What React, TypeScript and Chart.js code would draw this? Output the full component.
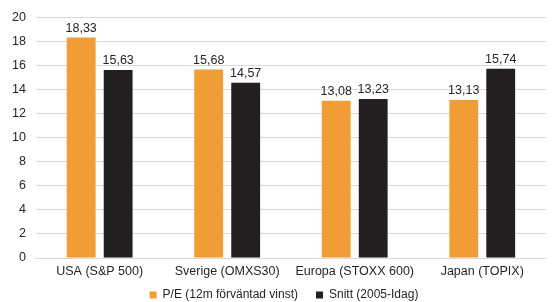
import React, { useEffect, useRef } from "react";
import { Chart, registerables } from "chart.js";

Chart.register(...registerables);

const categories = ["USA (S&P 500)", "Sverige (OMXS30)", "Europa (STOXX 600)", "Japan (TOPIX)"];
const peValues = [18.33, 15.68, 13.08, 13.13];
const avgValues = [15.63, 14.57, 13.23, 15.74];
const seriesNames = ["P/E (12m förväntad vinst)", "Snitt (2005-Idag)"];
const yTicks = [0, 2, 4, 6, 8, 10, 12, 14, 16, 18, 20];

const FONT = "'Liberation Sans', Arial, sans-serif";

const labelPlugin = {
  id: "barLabels",
  afterLayout(chart: any) {
    if (chart.legend) {
      chart.legend.left += 10;
      chart.legend.right += 10;
    }
  },
  afterDatasetsDraw(chart: any) {
    const ctx = chart.ctx;
    ctx.save();
    ctx.font = `12.5px ${FONT}`;
    ctx.fillStyle = "#262626";
    ctx.textAlign = "center";
    ctx.textBaseline = "bottom";
    chart.data.datasets.forEach((ds: any, i: number) => {
      const meta = chart.getDatasetMeta(i);
      meta.data.forEach((bar: any, j: number) => {
        const v = ds.data[j] as number;
        ctx.fillText(v.toFixed(2).replace(".", ","), bar.x, bar.y - 3);
      });
    });
    ctx.restore();
  },
};

export default function App() {
  const ref = useRef<HTMLCanvasElement>(null);
  useEffect(() => {
    document.body.style.margin = "0";
    const chart = new Chart(ref.current!, {
      type: "bar",
      data: {
        labels: categories,
        datasets: [
          { label: seriesNames[0], data: peValues, backgroundColor: "#F09D36" },
          { label: seriesNames[1], data: avgValues, backgroundColor: "#231F20" },
        ],
      },
      options: {
        animation: false,
        responsive: false,
        layout: { padding: { top: 11, right: 6, left: 2, bottom: -9 } },
        datasets: { bar: { categoryPercentage: 0.58, barPercentage: 0.78 } },
        plugins: {
          legend: {
            position: "bottom",
            labels: {
              boxWidth: 7,
              boxHeight: 7,
              padding: 18,
              color: "#262626",
              font: { family: FONT, size: 12 },
            },
          },
          tooltip: { enabled: false },
        },
        scales: {
          x: {
            grid: { display: false, drawTicks: false },
            border: { color: "#D9D9D9" },
            ticks: { color: "#262626", font: { family: FONT, size: 12.5 }, padding: 6 },
            afterFit: (axis: any) => {
              axis.height -= 14;
              axis._computeLabelArea = () => undefined;
            },
          },
          y: {
            min: 0,
            max: 20,
            afterBuildTicks: (axis: any) => {
              axis.ticks = yTicks.map((v) => ({ value: v }));
            },
            grid: { color: "#D9D9D9", drawTicks: false },
            border: { display: false },
            ticks: { color: "#262626", font: { family: FONT, size: 12.5 }, padding: 10 },
          },
        },
      },
      plugins: [labelPlugin],
    });
    return () => chart.destroy();
  }, []);
  return (
    <div style={{ width: 552, height: 302, position: "relative" }}>
      <canvas ref={ref} width={552} height={302} />
    </div>
  );
}
